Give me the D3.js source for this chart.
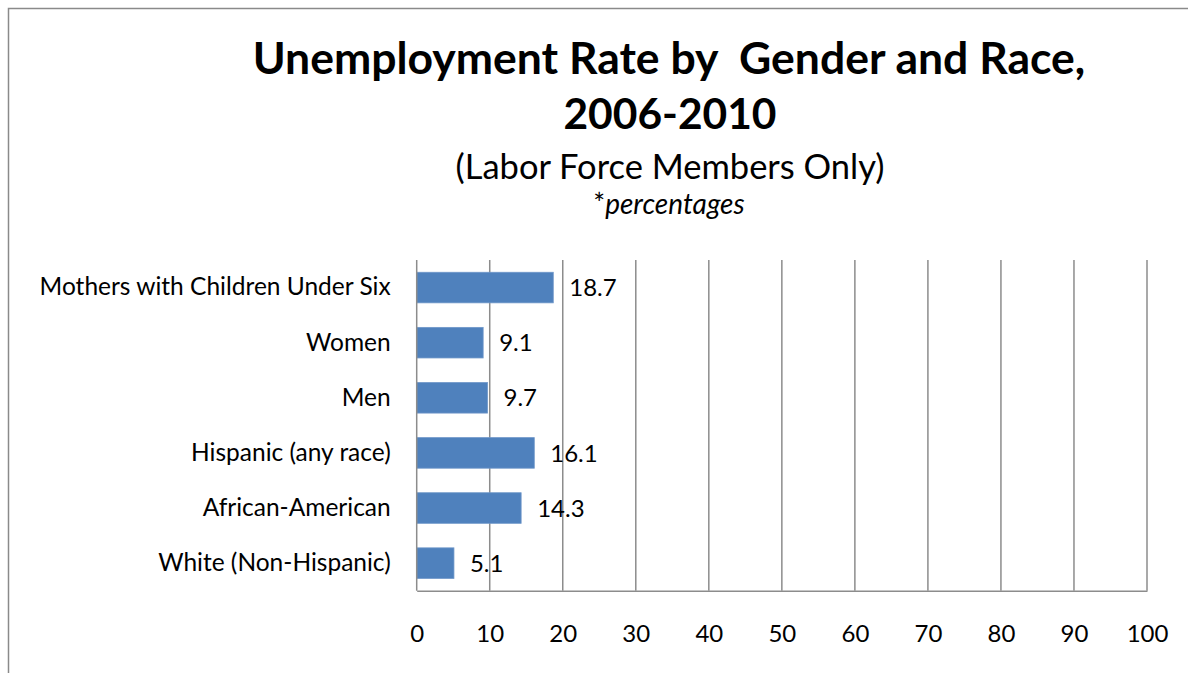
<!DOCTYPE html>
<html>
<head>
<meta charset="utf-8">
<script src="https://cdn.jsdelivr.net/npm/d3@7"></script>
<style>
  html, body { margin: 0; padding: 0; background: #fff; }
  svg { display: block; font-family: Lato, "Open Sans", sans-serif; }
</style>
</head>
<body>
<svg id="chart" width="1188" height="673"></svg>
<script>
// Categories listed top to bottom, with unemployment rates (%)
const categories = [
  "Mothers with Children Under Six",
  "Women",
  "Men",
  "Hispanic (any race)",
  "African-American",
  "White (Non-Hispanic)"
];
const rates = [18.7, 9.1, 9.7, 16.1, 14.3, 5.1];
const tickValues = [0, 10, 20, 30, 40, 50, 60, 70, 80, 90, 100];

const titleLines = ["Unemployment Rate by  Gender and Race,", "2006-2010"];
const subtitle = "(Labor Force Members Only)";
const note = "percentages";

const svg = d3.select("#chart");
const W = 1188, H = 673;
const FONT = "Lato, 'Open Sans', sans-serif";

// Outer chart frame
svg.append("rect")
  .attr("x", 8.5).attr("y", 8.5)
  .attr("width", W + 10).attr("height", H + 10)
  .attr("fill", "none").attr("stroke", "#8a8a8a").attr("stroke-width", 1.5);

// Titles
svg.append("text").attr("x", 669).attr("y", 74)
  .attr("text-anchor", "middle").attr("font-weight", 700).attr("font-size", 44.5)
  .attr("fill", "#000").style("white-space", "pre").text(titleLines[0]);
svg.append("text").attr("x", 670).attr("y", 129)
  .attr("text-anchor", "middle").attr("font-weight", 700).attr("font-size", 42.5)
  .attr("fill", "#000").text(titleLines[1]);
svg.append("text").attr("x", 670).attr("y", 179)
  .attr("text-anchor", "middle").attr("font-size", 34.5)
  .attr("fill", "#000").text(subtitle);
const noteText = svg.append("text").attr("x", 669).attr("y", 214)
  .attr("text-anchor", "middle").attr("font-size", 28).attr("fill", "#000");
noteText.append("tspan").text("*");
noteText.append("tspan").attr("font-style", "italic").text(note);

// Plot area
const plot = { left: 416.7, right: 1147, top: 260, bottom: 590.7 };

const x = d3.scaleLinear().domain([0, 100]).range([plot.left, plot.right]);
const y = d3.scaleBand().domain(categories).range([plot.top, plot.bottom])
  .paddingInner(0.445).paddingOuter(0.2225);

const grid = "#8c8c8c";

// Vertical gridlines
svg.append("g").selectAll("line").data(tickValues.slice(1)).join("line")
  .attr("x1", d => x(d)).attr("x2", d => x(d))
  .attr("y1", plot.top).attr("y2", plot.bottom)
  .attr("stroke", grid).attr("stroke-width", 1.5);

// Bars
svg.append("g").selectAll("rect").data(rates).join("rect")
  .attr("x", x(0))
  .attr("y", (d, i) => y(categories[i]))
  .attr("width", d => x(d) - x(0))
  .attr("height", y.bandwidth())
  .attr("fill", "#4f81bd")
  .attr("stroke", "#6f97c9").attr("stroke-width", 0.8);

// Value labels
svg.append("g").selectAll("text").data(rates).join("text")
  .attr("x", d => x(d) + 16)
  .attr("y", (d, i) => y(categories[i]) + y.bandwidth() / 2)
  .attr("dy", "0.36em")
  .attr("font-size", 24).attr("fill", "#000")
  .text(d => d.toFixed(1));

// Vertical (category) axis line
svg.append("line")
  .attr("x1", plot.left).attr("x2", plot.left)
  .attr("y1", plot.top).attr("y2", plot.bottom)
  .attr("stroke", grid).attr("stroke-width", 1.5);

// Bottom value axis
const xAxis = d3.axisBottom(x).tickValues(tickValues).tickSize(0).tickPadding(34)
  .tickFormat(d3.format("d"));
const gx = svg.append("g").attr("transform", `translate(0,${plot.bottom})`).call(xAxis);
gx.select(".domain").attr("stroke", grid).attr("stroke-width", 1.5);
gx.selectAll("text").attr("font-size", 24).attr("fill", "#000").attr("font-family", FONT);

// Category labels
const yAxis = d3.axisLeft(y).tickSize(0).tickPadding(26);
const gy = svg.append("g").attr("transform", `translate(${plot.left},0)`).call(yAxis);
gy.select(".domain").remove();
gy.selectAll("text").attr("font-size", 24.5).attr("fill", "#000").attr("font-family", FONT);
</script>
</body>
</html>
